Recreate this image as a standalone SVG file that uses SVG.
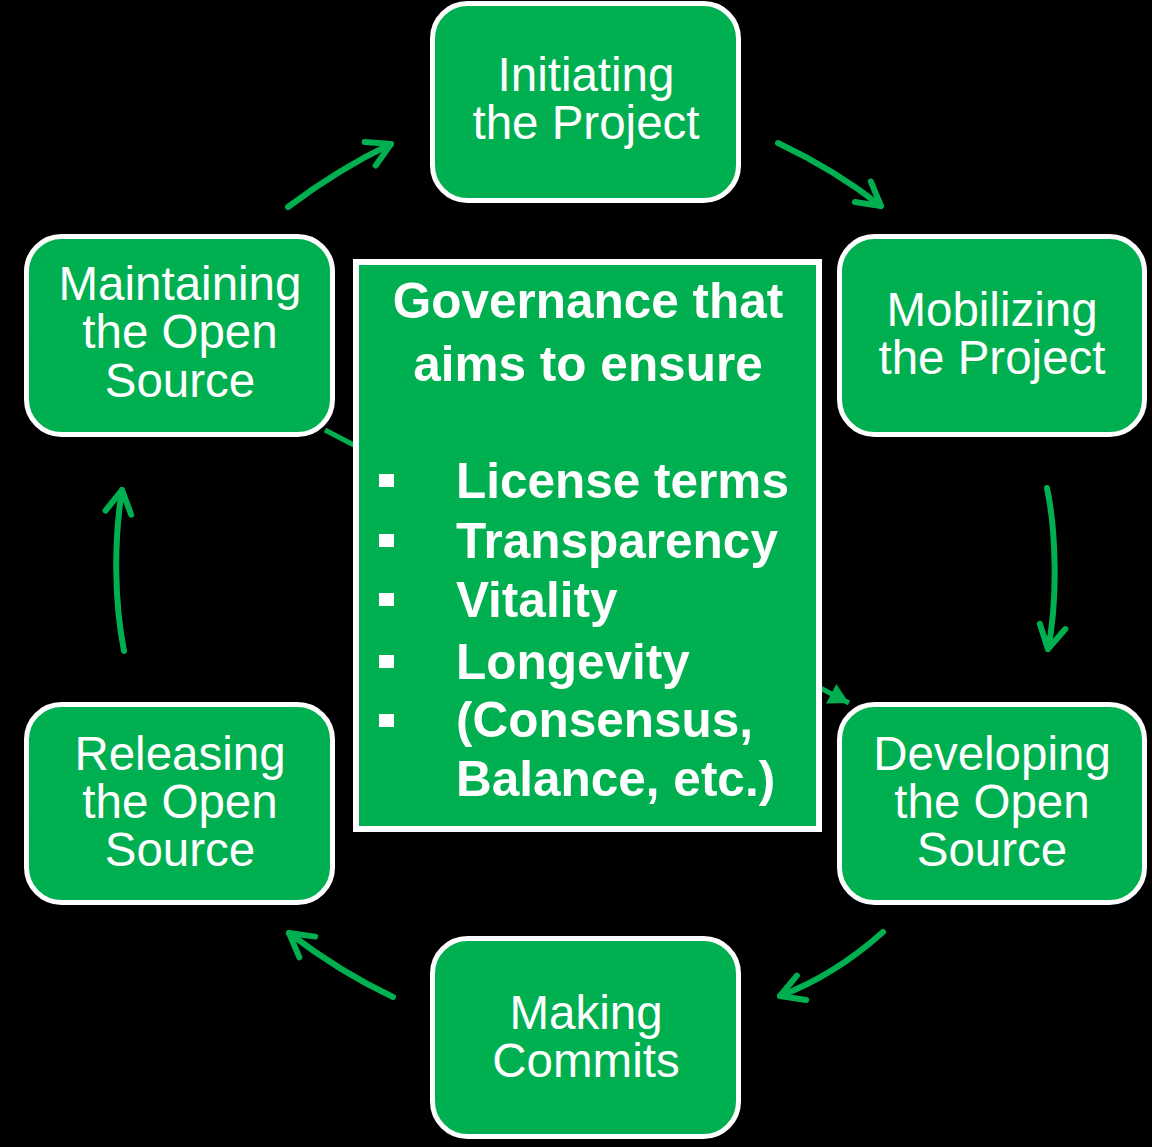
<svg xmlns="http://www.w3.org/2000/svg" width="1152" height="1147" viewBox="0 0 1152 1147">
<style>
.node{fill:#00B050;stroke:#FFFFFF;stroke-width:5}
.nt{font-family:"Liberation Sans",Arial,sans-serif;font-size:47.5px;fill:#FFFFFF;text-anchor:middle}
.bt{font-family:"Liberation Sans",Arial,sans-serif;font-size:49.5px;font-weight:bold;fill:#FFFFFF}
.arc{fill:none;stroke:#00B050;stroke-width:6;stroke-linecap:round;marker-end:url(#chev)}
</style>
<defs>
<marker id="chev" markerUnits="userSpaceOnUse" markerWidth="40" markerHeight="40" viewBox="-30 -20 40 40" refX="0" refY="0" orient="auto" overflow="visible">
<path d="M-23,-13 L0,0 L-23,13" fill="none" stroke="#00B050" stroke-width="6" stroke-linecap="round" stroke-linejoin="round"/>
</marker>
<marker id="tri" markerUnits="userSpaceOnUse" markerWidth="30" markerHeight="30" viewBox="-25 -15 30 30" refX="0" refY="0" orient="auto" overflow="visible">
<path d="M-20,-11 L0,0 L-20,11 Z" fill="#00B050"/>
</marker>
</defs>
<rect x="0" y="0" width="1152" height="1147" fill="#000000"/>
<g id="connectors">
<line x1="325" y1="430" x2="849" y2="703" stroke="#00B050" stroke-width="5" marker-end="url(#tri)"/>
<path class="arc" d="M288,207 Q340,168 391,144"/>
<path class="arc" d="M778,143 Q835,170 881,206"/>
<path class="arc" d="M1047,488 C1056,530 1058,600 1048,649"/>
<path class="arc" d="M883,932 Q835,975 780,996"/>
<path class="arc" d="M393,997 Q340,972 289,933"/>
<path class="arc" d="M124,651 C114,600 114,540 122,490"/>
</g>
<g id="center">
<rect x="356" y="262" width="463" height="567" fill="#00B050" stroke="#FFFFFF" stroke-width="6"/>
<text class="bt" x="588" y="318" text-anchor="middle">Governance that</text>
<text class="bt" x="588" y="381" text-anchor="middle">aims to ensure</text>
<rect x="379" y="474" width="15" height="13" fill="#FFFFFF"/>
<rect x="379" y="534" width="15" height="13" fill="#FFFFFF"/>
<rect x="379" y="593" width="15" height="13" fill="#FFFFFF"/>
<rect x="379" y="655" width="15" height="13" fill="#FFFFFF"/>
<rect x="379" y="714" width="15" height="13" fill="#FFFFFF"/>
<text class="bt" x="456" y="498">License terms</text>
<text class="bt" x="456" y="558">Transparency</text>
<text class="bt" x="456" y="617">Vitality</text>
<text class="bt" x="456" y="679">Longevity</text>
<text class="bt" x="456" y="737">(Consensus,</text>
<text class="bt" x="456" y="796">Balance, etc.)</text>
</g>
<g id="initiating">
<rect class="node" x="432.5" y="3.5" width="306" height="197" rx="35"/>
<text class="nt" x="586" y="91">Initiating</text>
<text class="nt" x="586" y="139">the Project</text>
</g>
<g id="mobilizing">
<rect class="node" x="839.5" y="236.5" width="305" height="198" rx="35"/>
<text class="nt" x="992" y="326">Mobilizing</text>
<text class="nt" x="992" y="374">the Project</text>
</g>
<g id="developing">
<rect class="node" x="839.5" y="704.5" width="305" height="198" rx="35"/>
<text class="nt" x="992" y="770">Developing</text>
<text class="nt" x="992" y="818">the Open</text>
<text class="nt" x="992" y="866">Source</text>
</g>
<g id="making">
<rect class="node" x="432.5" y="938.5" width="306" height="198" rx="35"/>
<text class="nt" x="586" y="1029">Making</text>
<text class="nt" x="586" y="1077">Commits</text>
</g>
<g id="releasing">
<rect class="node" x="26.5" y="704.5" width="306" height="198" rx="35"/>
<text class="nt" x="180" y="770">Releasing</text>
<text class="nt" x="180" y="818">the Open</text>
<text class="nt" x="180" y="866">Source</text>
</g>
<g id="maintaining">
<rect class="node" x="26.5" y="236.5" width="306" height="198" rx="35"/>
<text class="nt" x="180" y="300">Maintaining</text>
<text class="nt" x="180" y="348">the Open</text>
<text class="nt" x="180" y="397">Source</text>
</g>
</svg>
